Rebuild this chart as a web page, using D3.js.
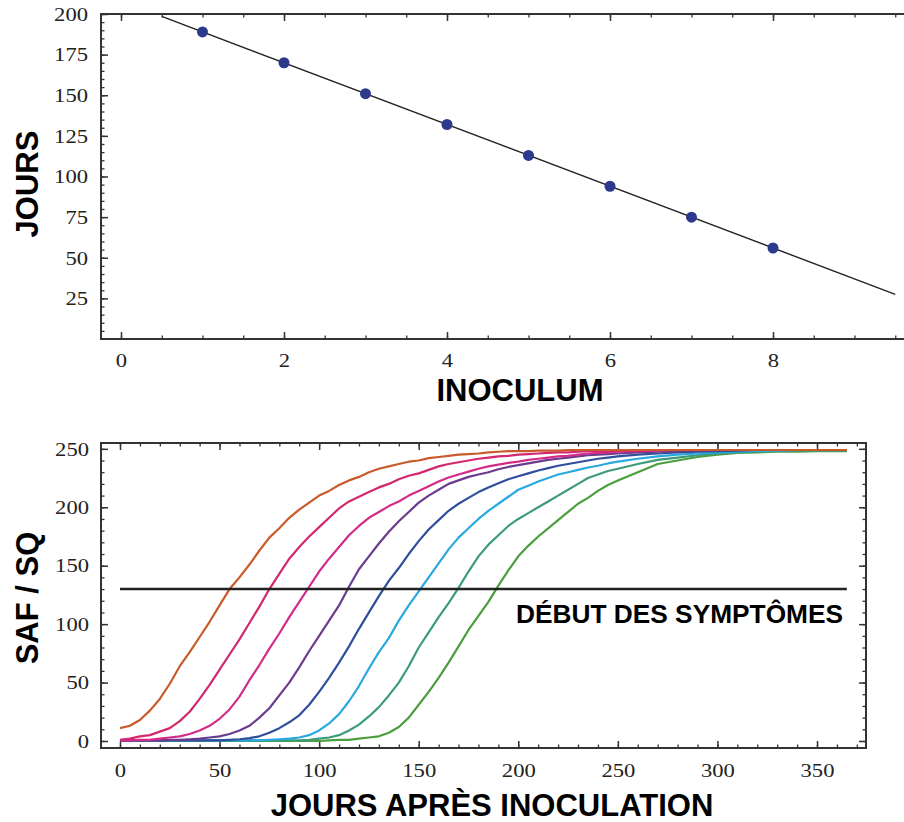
<!DOCTYPE html>
<html><head><meta charset="utf-8">
<script src="https://cdn.jsdelivr.net/npm/d3@7"></script>
<style>body{margin:0;background:#fff}</style>
</head><body>
<svg id="c" width="904" height="822"></svg>
<script>
// ---------- top chart data ----------
const inoculum = [1, 2, 3, 4, 5, 6, 7, 8];
const joursPoints = [189, 170, 151, 132, 113, 94, 75, 56];
const fitInoculum = [0.5, 9.5];
const fitJours = [198.5, 27.5];
const topXTicks = [0, 2, 4, 6, 8];
const topYTicks = [25, 50, 75, 100, 125, 150, 175, 200];

// ---------- bottom chart data ----------
const days = [0,5,10,15,20,25,30,35,40,45,50,55,60,65,70,75,80,85,90,95,100,105,110,115,120,125,130,135,140,145,150,155,160,165,170,175,180,185,190,195,200,205,210,215,220,225,230,235,240,245,250,260,270,280,290,300,310,320,330,340,350,360,365];
const safInoc8 = [11,13,18,26,36,49,64,76,89,102, 116,130,140,151,163,174,182,191,198,204, 210,214,219,223,226,230,233,235,237,239, 240,242,243,244,245,245.5,246,247,247.5,248, 248,248,248.5,248.5,248.5,249,249,249,249,249, 249, 249,249,249,249,249,249,249,249,249,249,249, 249];
const safInoc7 = [1,2,4,5,8,11,17,25,36,48, 61,74,87,101,115,130,143,156,166,175, 183,191,199,205,209,213,217,220,224,227, 229,232,235,237,238.5,240,241.5,242.5,243.5,244, 245,245.5,246,246.5,247,247,247.5,248,248,248, 248.5, 248.5,249,249,249,249,249,249,249,249,249,249, 249];
const safInoc6 = [0.5,0.5,1,1,2,3,4,6,9,13, 19,27,38,52,65,79,92,106,119,132, 145,156,166,176,184,191,196,201,205,210, 214,218,222,225.5,228,230.5,233,235,236.5,238, 239,240.5,241.5,242.5,243.5,244,245,246,246.5,247, 247.5, 248,248.5,249,249,249,249,249,249,249,249,249, 249];
const safInoc5 = [0.5,0.5,0.5,0.5,0.5,1,1,1.5,2,3, 4,6,9,13,20,28,39,50,63,77, 90,103,116,132,147,158,169,179,188,196, 204,210,215,220,223,226,228,230,232.5,234.5, 236,237.5,239,240.5,241.5,242.5,243.5,244.5,245,245.5, 246, 247,247.5,248,248.5,249,249,249,249,249,249,249, 249];
const safInoc4 = [0.5,0.5,0.5,0.5,0.5,0.5,0.5,0.5,0.5,0.5, 0.5,1,1.5,2.5,4,7,11,16,22,31, 42,54,67,81,96,110,124,137,148,160, 171,181,189,197,203,208,213,217,220.5,224, 226.5,229,231.5,233.5,235.5,237,238.5,240,241.5,242.5, 243.5, 245,246,247,247.5,248,248.5,249,249,249,249,249, 249];
const safInoc3 = [0.5,0.5,0.5,0.5,0.5,0.5,0.5,0.5,0.5,0.5, 0.5,0.5,0.5,0.5,0.5,1,1.5,2,3,5, 9,15,23,34,47,62,76,88,103,116, 128,140,152,164,174,182,190,197,203,209, 215,218.5,222,225,228,230,232,234,235.5,237.5, 239, 241.5,243.5,245,246,247,247.5,248,248.5,249,249,249, 249];
const safInoc2 = [0.5,0.5,0.5,0.5,0.5,0.5,0.5,0.5,0.5,0.5, 0.5,0.5,0.5,0.5,0.5,0.5,0.5,0.5,0.5,1, 2,3,5,9,14,21,29,39,50,64, 80,93,106,118,131,145,158,168,176,184, 190,195,200,205,210,215,220,225,228,231, 233, 237,240.5,242.5,244.5,246,247,248,248.5,248.5,248.5,248.5, 248.5];
const safInoc1 = [0,0,0,0,0,0,0,0,0,0, 0,0,0,0,0,0,0,0,0,0, 0,0.5,1,1,2,3,4,7,12,20, 31,42,54,67,81,95,107,119,133,146, 158,167,175,182,189,196,203,208,214,219, 223, 230,237,240,243,245,246.5,247,247.5,247.5,248,248, 248];
const seriesColors = ["#4b9e3d", "#3e9b7a", "#2aa8e0", "#2f4f9d", "#6b3b8f", "#d22c88", "#d2286f", "#c95a2b"];
const bottomXTicks = [0, 50, 100, 150, 200, 250, 300, 350];
const bottomYTicks = [0, 50, 100, 150, 200, 250];
const thresholdValue = 130;
const thresholdDays = [0, 365];
const thresholdLabel = "DÉBUT DES SYMPTÔMES";

const svg = d3.select("#c");
const serif = "'Liberation Serif','Times New Roman',serif";
const sans = "'Liberation Sans',Arial,sans-serif";
const frameColor = "#333";

function styleLabels(g, perChar) {
  g.selectAll("text")
    .attr("font-family", serif).attr("font-size", 19).attr("fill", "#222")
    .each(function () {
      const t = d3.select(this).text();
      if (t.length) d3.select(this).attr("textLength", t.length * perChar).attr("lengthAdjust", "spacingAndGlyphs");
    });
}
function styleTicks(g, w) {
  g.select(".domain").remove();
  g.selectAll("line").attr("stroke", frameColor).attr("stroke-width", w);
}

// ================= TOP CHART =================
const tL = 101, tR = 904, tT = 14, tB = 339;
const xT = d3.scaleLinear().domain([0, 8]).range([121, 773]);
const yT = d3.scaleLinear().domain([0, 200]).range([tB, tT]);
const gT = svg.append("g");

// minor ticks
const topXMinor = d3.range(0, 9.51, 0.5);
const topYMinor = d3.range(5, 200.1, 5);
[[d3.axisBottom(xT), tB], [d3.axisTop(xT), tT]].forEach(([ax, y]) => {
  const g = gT.append("g").attr("transform", `translate(0,${y})`)
    .call(ax.tickValues(topXMinor).tickSize(-3.5).tickFormat(""));
  styleTicks(g, 1.3);
  const g2 = gT.append("g").attr("transform", `translate(0,${y})`)
    .call((y === tB ? d3.axisBottom(xT) : d3.axisTop(xT)).tickValues(topXTicks).tickSize(-7).tickFormat(y === tB ? d3.format("d") : ""));
  styleTicks(g2, 1.5);
  if (y === tB) { g2.selectAll("text").attr("y", 28).attr("dy", 0); styleLabels(g2, 11.3); }
});
{
  const g = gT.append("g").attr("transform", `translate(${tL},0)`)
    .call(d3.axisLeft(yT).tickValues(topYMinor).tickSize(-3.5).tickFormat(""));
  styleTicks(g, 1.3);
  const g2 = gT.append("g").attr("transform", `translate(${tL},0)`)
    .call(d3.axisLeft(yT).tickValues(topYTicks).tickSize(-7).tickPadding(13).tickFormat(d3.format("d")));
  styleTicks(g2, 1.5);
  g2.selectAll("text").attr("dy", "0.33em");
  styleLabels(g2, 11.3);
}
// frame (left, top, bottom)
gT.append("path").attr("d", `M${tR},${tT}H${tL}V${tB}H${tR}`)
  .attr("fill", "none").attr("stroke", frameColor).attr("stroke-width", 2);

// fit line
gT.append("path")
  .datum(fitInoculum.map((x, i) => [x, fitJours[i]]))
  .attr("d", d3.line().x(d => xT(d[0])).y(d => yT(d[1])))
  .attr("fill", "none").attr("stroke", "#222").attr("stroke-width", 1.4);
// points
gT.selectAll("circle").data(inoculum).join("circle")
  .attr("cx", d => xT(d)).attr("cy", (d, i) => yT(joursPoints[i])).attr("r", 5.5)
  .attr("fill", "#2c398c");

// titles
gT.append("text").attr("x", 520).attr("y", 401).attr("text-anchor", "middle")
  .attr("font-family", sans).attr("font-weight", "bold").attr("font-size", 31).text("INOCULUM");
gT.append("text").attr("transform", "translate(38,184) rotate(-90)").attr("text-anchor", "middle")
  .attr("font-family", sans).attr("font-weight", "bold").attr("font-size", 31).text("JOURS");

// ================= BOTTOM CHART =================
const bL = 101, bR = 866, bT = 443, bB = 748;
const xB = d3.scaleLinear().domain([0, 350]).range([120, 817]);
const yB = d3.scaleLinear().domain([-6, 255]).range([bB, bT]);
const gB = svg.append("g");

const botXMinor = d3.range(0, 371, 10);
const botYMinor = d3.range(0, 251, 10);
[["b", bB], ["t", bT]].forEach(([k, y]) => {
  const mk = () => (k === "b" ? d3.axisBottom(xB) : d3.axisTop(xB));
  const g = gB.append("g").attr("transform", `translate(0,${y})`)
    .call(mk().tickValues(botXMinor).tickSize(-3.5).tickFormat(""));
  styleTicks(g, 1.3);
  const g2 = gB.append("g").attr("transform", `translate(0,${y})`)
    .call(mk().tickValues(bottomXTicks).tickSize(-7).tickFormat(k === "b" ? d3.format("d") : ""));
  styleTicks(g2, 1.5);
  if (k === "b") { g2.selectAll("text").attr("y", 29).attr("dy", 0); styleLabels(g2, 11.3); }
});
[["l", bL], ["r", bR]].forEach(([k, x]) => {
  const mk = () => (k === "l" ? d3.axisLeft(yB) : d3.axisRight(yB));
  const g = gB.append("g").attr("transform", `translate(${x},0)`)
    .call(mk().tickValues(botYMinor).tickSize(-3.5).tickFormat(""));
  styleTicks(g, 1.3);
  const g2 = gB.append("g").attr("transform", `translate(${x},0)`)
    .call(mk().tickValues(bottomYTicks).tickSize(-7).tickPadding(12).tickFormat(k === "l" ? d3.format("d") : ""));
  styleTicks(g2, 1.5);
  if (k === "l") { g2.selectAll("text").attr("dy", "0.33em"); styleLabels(g2, 11.3); }
});
gB.append("rect").attr("x", bL).attr("y", bT).attr("width", bR - bL).attr("height", bB - bT)
  .attr("fill", "none").attr("stroke", frameColor).attr("stroke-width", 2);

// curves (inoculum 1 drawn first, inoculum 8 last)
const allSeries = [safInoc1, safInoc2, safInoc3, safInoc4, safInoc5, safInoc6, safInoc7, safInoc8];
const line = d3.line().x((d, i) => xB(days[i])).y(d => yB(d));
gB.selectAll("path.curve").data(allSeries).join("path").attr("class", "curve")
  .attr("d", d => line(d)).attr("fill", "none")
  .attr("stroke", (d, i) => seriesColors[i]).attr("stroke-width", 2.2).attr("stroke-linejoin", "round");

// threshold
gB.append("line").attr("x1", xB(thresholdDays[0])).attr("x2", xB(thresholdDays[1]))
  .attr("y1", yB(thresholdValue)).attr("y2", yB(thresholdValue))
  .attr("stroke", "#222").attr("stroke-width", 2.5);
gB.append("text").attr("x", 516).attr("y", 623)
  .attr("font-family", sans).attr("font-weight", "bold").attr("font-size", 26)
  .attr("textLength", 327).attr("lengthAdjust", "spacingAndGlyphs").text(thresholdLabel);

// titles
gB.append("text").attr("x", 492).attr("y", 816).attr("text-anchor", "middle")
  .attr("font-family", sans).attr("font-weight", "bold").attr("font-size", 31).text("JOURS APRÈS INOCULATION");
gB.append("text").attr("transform", "translate(38,598) rotate(-90)").attr("text-anchor", "middle")
  .attr("font-family", sans).attr("font-weight", "bold").attr("font-size", 31).text("SAF / SQ");
</script>
</body></html>
